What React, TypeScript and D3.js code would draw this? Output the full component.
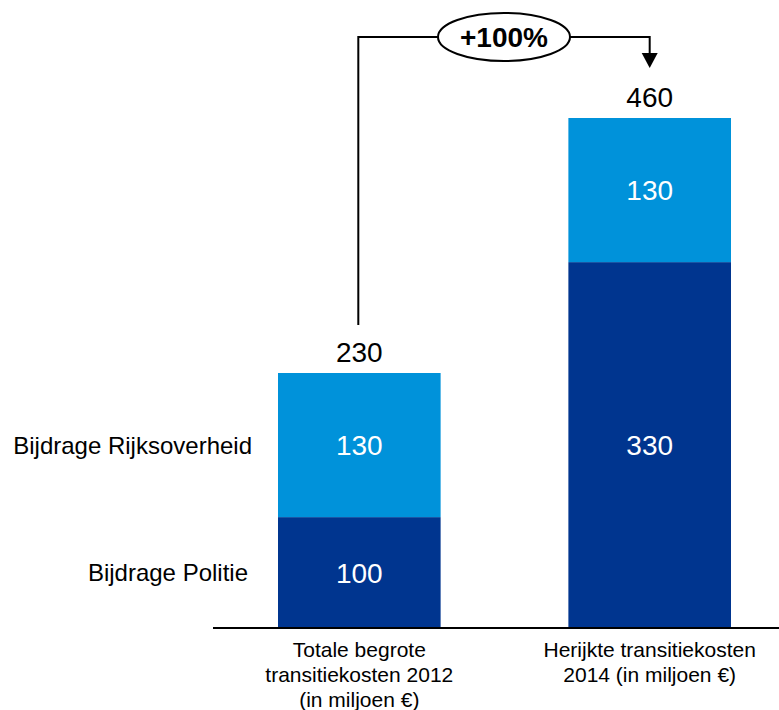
import * as d3 from "d3";

const categories = ["Totale begrote transitiekosten 2012", "Herijkte transitiekosten 2014"];
const categoryLines = [
  ["Totale begrote", "transitiekosten 2012", "(in miljoen €)"],
  ["Herijkte transitiekosten", "2014 (in miljoen €)"],
];
const series = ["Bijdrage Politie", "Bijdrage Rijksoverheid"];
const politie = [100, 330];
const rijk = [130, 130];
const totals = [230, 460];
const changeLabel = "+100%";

const colors = ["#00358F", "#0092DA"];
const font = "'Liberation Sans', Arial, sans-serif";

export default function App() {
  const width = 779;
  const height = 710;

  const x = d3.scaleBand<string>().domain(categories).range([278, 731]).paddingInner(0.44).paddingOuter(0);
  const y = d3.scaleLinear().domain([0, 460]).range([628, 118]);

  const rows = categories.map((c, i) => ({ cat: c, politie: politie[i], rijk: rijk[i] }));
  const stack = d3.stack<any>().keys(["politie", "rijk"])(rows);

  const bw = x.bandwidth();
  const cx = (c: string) => (x(c) ?? 0) + bw / 2;

  // annotation path between the two totals
  const topY = 37;
  const x1 = cx(categories[0]) - 1;
  const x2 = cx(categories[1]);
  const ex = (x1 + x2) / 2;
  const rx = 66;
  const ry = 24;
  const tipY = y(totals[1]) - 50;

  return (
    <svg width={width} height={height} style={{ position: "absolute", left: 0, top: 0, fontFamily: font }}>
      <rect width={width} height={height} fill="#fff" />
      {stack.map((s, si) =>
        s.map((d, i) => (
          <g key={`${si}-${i}`}>
            <rect
              x={x(categories[i])}
              y={y(d[1])}
              width={bw}
              height={y(d[0]) - y(d[1])}
              fill={colors[si]}
            />
            <text
              x={cx(categories[i])}
              y={(y(d[0]) + y(d[1])) / 2}
              dy="0.36em"
              textAnchor="middle"
              fill="#fff"
              fontSize={28}
            >
              {d[1] - d[0]}
            </text>
          </g>
        ))
      )}
      {totals.map((t, i) => (
        <text key={i} x={cx(categories[i])} y={y(t) - 11} textAnchor="middle" fontSize={28} fill="#000">
          {t}
        </text>
      ))}
      {/* series labels to the left of first bar */}
      {series.map((s, si) => {
        const d = stack[si][0];
        return (
          <text key={s} x={si === 0 ? 248 : 252} y={(y(d[0]) + y(d[1])) / 2} dy="0.36em" textAnchor="end" fontSize={24} fill="#000">
            {s}
          </text>
        );
      })}
      <line x1={213} x2={779} y1={628} y2={628} stroke="#000" strokeWidth={2} />
      {categoryLines.map((lines, i) => (
        <text key={i} textAnchor="middle" fontSize={21} fill="#000">
          {lines.map((l, j) => (
            <tspan key={j} x={cx(categories[i])} y={657 + j * 25}>
              {l}
            </tspan>
          ))}
        </text>
      ))}
      <path
        d={`M${x1},${y(totals[0]) - 48}V${topY}H${ex - rx}M${ex + rx},${topY}H${x2}V${tipY - 14}`}
        fill="none"
        stroke="#000"
        strokeWidth={2}
      />
      <path d={`M${x2 - 8},${tipY - 15}L${x2 + 8},${tipY - 15}L${x2},${tipY}Z`} fill="#000" />
      <ellipse cx={ex} cy={topY} rx={rx} ry={ry} fill="#fff" stroke="#000" strokeWidth={2} />
      <text x={ex} y={topY} dy="0.36em" textAnchor="middle" fontSize={28} fontWeight="bold" fill="#000">
        {changeLabel}
      </text>
    </svg>
  );
}
